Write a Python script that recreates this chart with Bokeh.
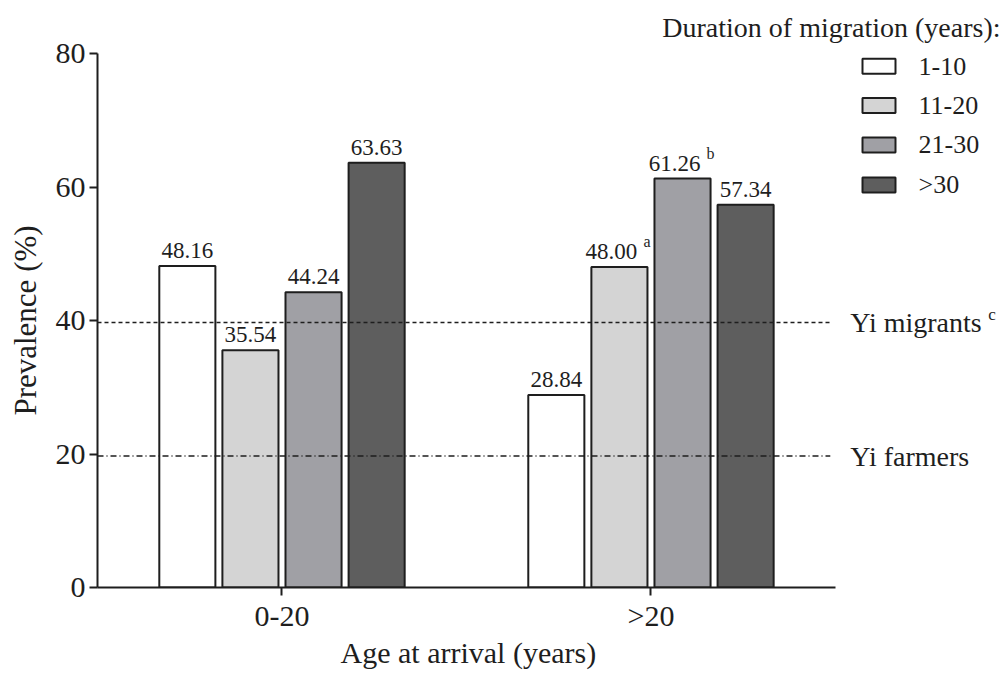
from bokeh.plotting import figure
from bokeh.models import Range1d, FixedTicker, ColumnDataSource, Title
from bokeh.core.properties import value
from bokeh.embed import file_html
from bokeh.resources import INLINE

# ---- data -------------------------------------------------------------
age_groups = ["0-20", ">20"]
durations = ["1-10", "11-20", "21-30", ">30"]
prev_1_10 = [48.16, 28.84]
prev_11_20 = [35.54, 48.00]
prev_21_30 = [44.24, 61.26]
prev_over_30 = [63.63, 57.34]
# footnote marks attached to some bars: (age group, duration) -> mark
notes = {(">20", "11-20"): "a", (">20", "21-30"): "b"}
# reference prevalences drawn as horizontal lines
ref_names = ["Yi migrants", "Yi farmers"]
ref_values = [39.7, 19.7]
ref_notes = ["c", ""]
y_ticks = [0, 20, 40, 60, 80]

# ---- style ------------------------------------------------------------
FONT = "Liberation Serif"
INK = "#1e1e1e"
fills = ["#ffffff", "#d4d4d4", "#a0a0a5", "#5e5e5e"]
ref_dashes = ["4 3", "6 3 1 3"]
BAR_STEP = 0.171
BAR_WIDTH = 0.152

series = [prev_1_10, prev_11_20, prev_21_30, prev_over_30]

xs, tops, colors, labels, groups_col, durs_col = [], [], [], [], [], []
for k, (dur, vals) in enumerate(zip(durations, series)):
    for i, (grp, v) in enumerate(zip(age_groups, vals)):
        xs.append(i + 0.5 + (k - 1.5) * BAR_STEP)
        tops.append(v)
        colors.append(fills[k])
        labels.append(f"{v:.2f}")
        groups_col.append(grp)
        durs_col.append(dur)

bars = ColumnDataSource(dict(x=xs, top=tops, fill=colors))

p = figure(
    frame_width=904, frame_height=534,
    min_border_left=97, min_border_top=53, min_border_right=0, min_border_bottom=87,
    x_range=Range1d(0, 2.45), y_range=Range1d(0, 80),
    output_backend="svg", toolbar_location=None,
    title="Duration of migration (years):",
)
p.background_fill_color = "white"
p.border_fill_color = "white"
p.outline_line_color = None
p.grid.visible = False

p.title.align = "right"
p.title.offset = 1
p.title.text_font = FONT
p.title.text_font_size = "28px"
p.title.text_font_style = "normal"
p.title.text_color = INK
p.title.standoff = 20
p.title.vertical_align = "middle"

# bars
p.vbar(x="x", top="top", width=BAR_WIDTH, bottom=0, source=bars,
       fill_color="fill", line_color=INK, line_width=2)

# value labels over bars (labels carrying a footnote mark are nudged left)
plain_x, plain_y, plain_t = [], [], []
noted_x, noted_y, noted_t, noted_m = [], [], [], []
for x, t, lab, g, d in zip(xs, tops, labels, groups_col, durs_col):
    mark = notes.get((g, d))
    if mark:
        noted_x.append(x); noted_y.append(t); noted_t.append(lab); noted_m.append(mark)
    else:
        plain_x.append(x); plain_y.append(t); plain_t.append(lab)

label_style = dict(text_baseline="bottom", text_font=value(FONT),
                   text_font_size="23px", text_color=INK)
p.text(x=plain_x, y=plain_y, text=plain_t, text_align="center", y_offset=-8,
       **label_style)
p.text(x=noted_x, y=noted_y, text=noted_t, text_align="center", x_offset=-8,
       y_offset=-8, **label_style)
p.text(x=noted_x, y=noted_y, text=noted_m, x_offset=24, y_offset=-17,
       text_align="left", text_baseline="bottom",
       text_font=value(FONT), text_font_size="16px", text_color=INK)

# reference lines with their names
for name, v, note, dash in zip(ref_names, ref_values, ref_notes, ref_dashes):
    p.segment(x0=[0], y0=[v], x1=[1.986], y1=[v], line_color=INK,
              line_width=1.5, line_dash=dash)
    p.text(x=[2.04], y=[v], text=[name], text_align="left", text_baseline="middle",
           text_font=value(FONT), text_font_size="28px", text_color=INK)
    if note:
        p.text(x=[2.04], y=[v], text=[note], x_offset=138, y_offset=-8,
               text_align="left", text_baseline="middle",
               text_font=value(FONT), text_font_size="17px", text_color=INK)

# legend swatches
leg_y = [78.1, 72.2, 66.3, 60.3]
p.rect(x=[2.118] * 4, y=leg_y, width=33, height=15, width_units="screen",
       height_units="screen", fill_color=fills, line_color=INK, line_width=2)
p.text(x=[2.225] * 4, y=leg_y, text=durations, text_align="left",
       text_baseline="middle", text_font=value(FONT), text_font_size="26px",
       text_color=INK)

# axes
for ax in (p.xaxis[0], p.yaxis[0]):
    ax.axis_line_color = INK
    ax.axis_line_width = 2
    ax.major_tick_line_color = INK
    ax.major_tick_line_width = 2
    ax.major_tick_in = 0
    ax.major_tick_out = 8
    ax.minor_tick_line_color = None
    ax.major_label_text_font = FONT
    ax.major_label_text_font_size = "30px"
    ax.major_label_text_color = INK

p.yaxis.ticker = FixedTicker(ticks=y_ticks)
p.yaxis.bounds = (0, 80)
p.yaxis.major_label_standoff = 4
p.yaxis.axis_label = "Prevalence (%)"
p.yaxis.axis_label_text_font = FONT
p.yaxis.axis_label_text_font_size = "31px"
p.yaxis.axis_label_text_font_style = "normal"
p.yaxis.axis_label_text_color = INK
p.yaxis.axis_label_standoff = 10

p.xaxis.ticker = FixedTicker(ticks=[i + 0.5 for i in range(len(age_groups))])
p.xaxis.major_label_overrides = {i + 0.5: g for i, g in enumerate(age_groups)}
p.xaxis.bounds = (0, 2)
p.xaxis.major_label_standoff = 3

p.add_layout(Title(text="Age at arrival (years)", align="left", offset=243,
                   text_font=FONT, text_font_size="30px", text_font_style="normal",
                   text_color=INK, standoff=2, vertical_align="top"), "below")

open("out.html", "w").write(file_html(p, INLINE))
